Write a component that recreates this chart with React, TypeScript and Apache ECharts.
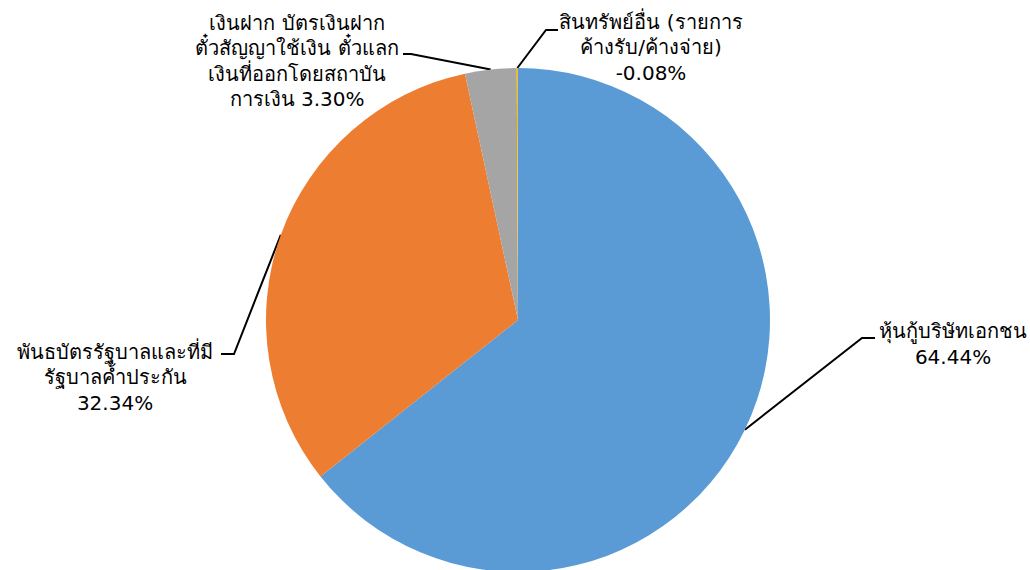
import React, { useEffect, useRef } from "react";
import * as echarts from "echarts";

const categories = [
  "หุ้นกู้บริษัทเอกชน",
  "พันธบัตรรัฐบาลและที่มี\nรัฐบาลค้ำประกัน",
  "เงินฝาก บัตรเงินฝาก\nตั๋วสัญญาใช้เงิน ตั๋วแลก\nเงินที่ออกโดยสถาบัน\nการเงิน",
  "สินทรัพย์อื่น (รายการ\nค้างรับ/ค้างจ่าย)",
];
const values = [64.44, 32.34, 3.3, -0.08];
const colors = ["#5B9BD5", "#ED7D31", "#A5A5A5", "#FFC000"];
const separators = ["\n", "\n", " ", "\n"];

// label placement: centre x, centre y, elbow x, elbow y, end x of leader line
const labelPlaces = [
  { x: 953, y: 344, ex: 862, ey: 338, tx: 875 },
  { x: 115, y: 377, ex: 234, ey: 354, tx: 221 },
  { x: 297, y: 61, ex: 411, ey: 54, tx: 403 },
  { x: 651, y: 47, ex: 546, ey: 30, tx: 558 },
];

export default function App() {
  const ref = useRef<HTMLDivElement>(null);
  useEffect(() => {
    if (!ref.current) return;
    const chart = echarts.init(ref.current, null, { renderer: "svg" });
    const data = categories.map((name, i) => ({
      name,
      value: Math.abs(values[i]),
      itemStyle: { color: colors[i] },
    }));
    chart.setOption({
      animation: false,
      backgroundColor: "#ffffff",
      series: [
        {
          type: "pie",
          center: [518, 320],
          radius: 252,
          startAngle: 90,
          clockwise: true,
          avoidLabelOverlap: false,
          data,
          label: {
            show: true,
            position: "outside",
            color: "#000",
            fontSize: 20,
            lineHeight: 25.5,
            fontFamily: "Tahoma, 'DejaVu Sans', 'Noto Sans', sans-serif",
            align: "center",
            formatter: (p: any) => {
              const i = p.dataIndex;
              const v = values[i];
              return categories[i] + separators[i] + v.toFixed(2) + "%";
            },
          },
          labelLine: {
            show: true,
            lineStyle: { color: "#000", width: 2 },
          },
          labelLayout: (params: any) => {
            const pl = labelPlaces[params.dataIndex];
            const start = params.labelLinePoints
              ? params.labelLinePoints[0]
              : [pl.ex, pl.ey];
            return {
              x: pl.x,
              y: pl.y,
              align: "center",
              verticalAlign: "middle",
              labelLinePoints: [start, [pl.ex, pl.ey], [pl.tx, pl.ey]],
            };
          },
        },
      ],
    });
    return () => chart.dispose();
  }, []);
  return (
    <div
      ref={ref}
      style={{ position: "fixed", left: 0, top: 0, width: 1030, height: 570 }}
    />
  );
}
